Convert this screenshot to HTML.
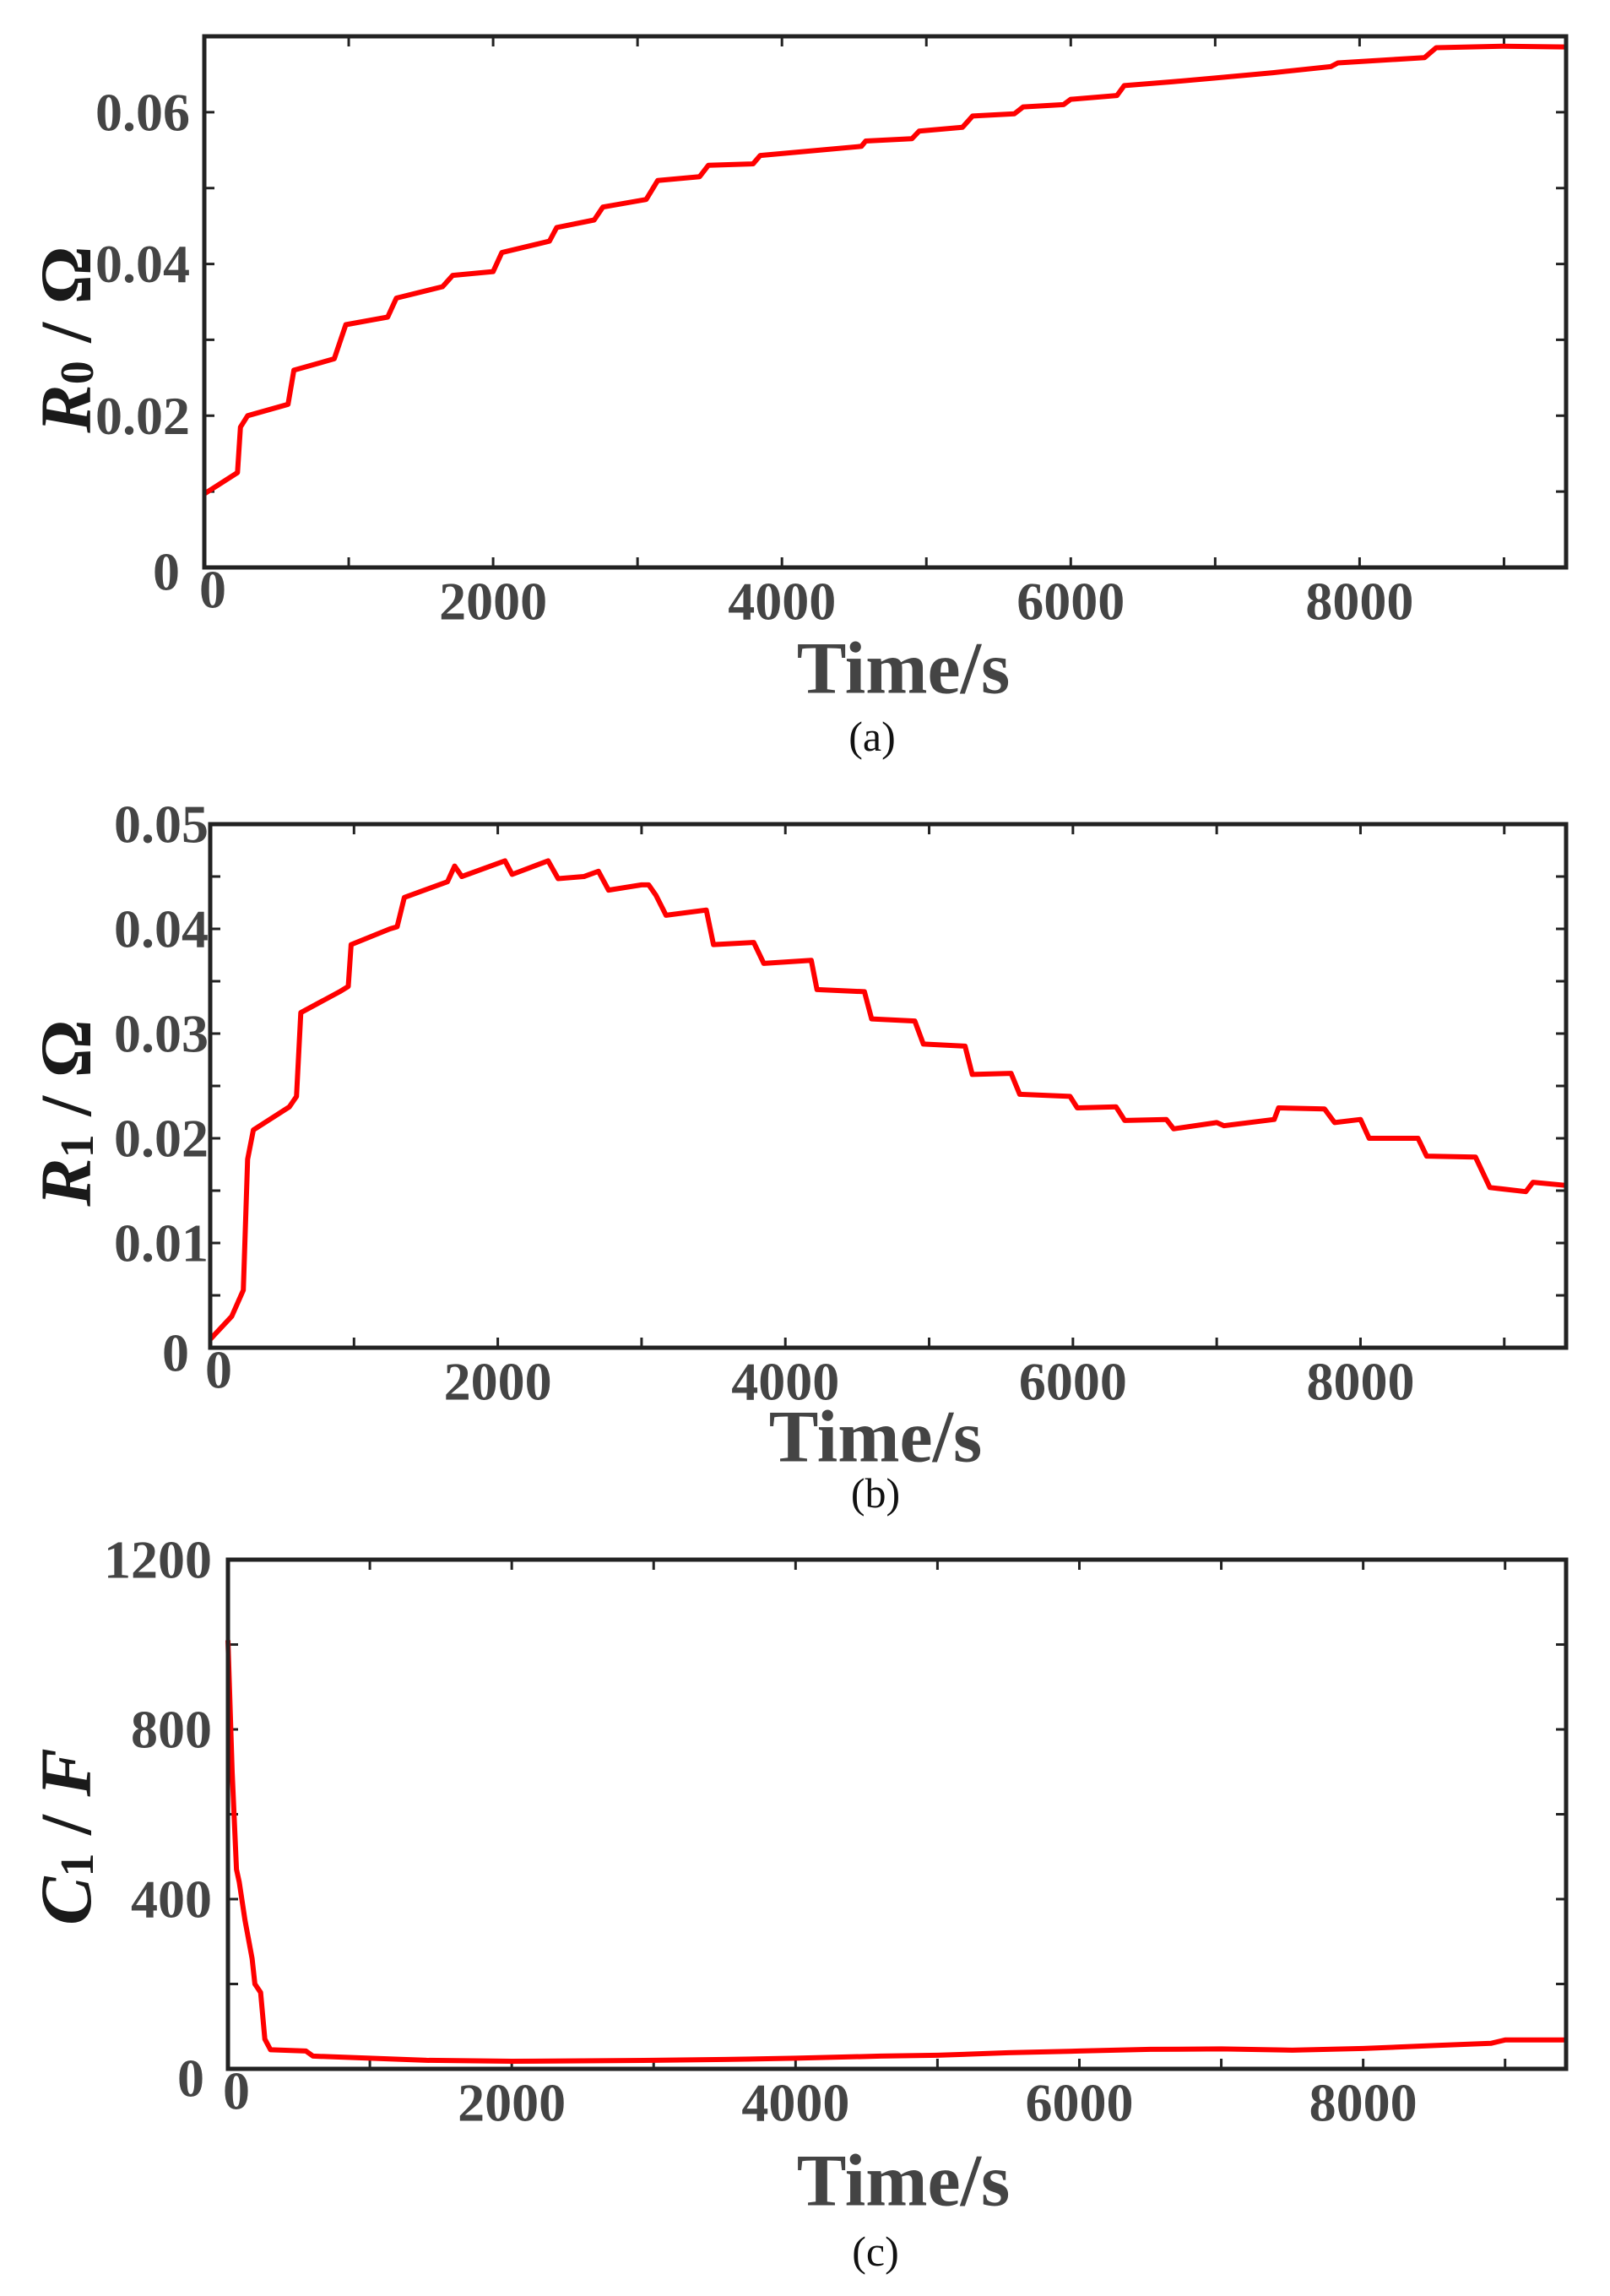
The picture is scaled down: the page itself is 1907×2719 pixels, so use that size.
<!DOCTYPE html>
<html><head><meta charset="utf-8"><style>
html,body{margin:0;padding:0;background:#fff;}
svg{display:block;}
text{font-family:"Liberation Serif",serif;}
</style></head><body>
<svg id="fig" width="1907" height="2719" viewBox="0 0 1907 2719" xmlns="http://www.w3.org/2000/svg"></svg>
<script>
// Panel (a) R0 data
const tA = [0,230,250,300,580,620,900,980,1270,1330,1650,1720,2000,2060,2390,2440,2700,2760,3060,3140,3430,3490,3800,3850,4550,4580,4900,4950,5250,5320,5610,5670,5950,6000,6320,6370,6700,7000,7400,7800,7850,8450,8530,9000,9430];
const vA = [0.0097,0.0125,0.0185,0.0200,0.0215,0.0260,0.0275,0.0320,0.0330,0.0355,0.0370,0.0385,0.0390,0.0415,0.0430,0.0448,0.0458,0.0475,0.0485,0.0510,0.0515,0.0530,0.0532,0.0543,0.0555,0.0562,0.0565,0.0575,0.0580,0.0595,0.0598,0.0607,0.0610,0.0617,0.0622,0.0635,0.0640,0.0645,0.0652,0.0660,0.0665,0.0672,0.0685,0.0687,0.0686];
// Panel (b) R1 data
const tB = [0,150,230,260,300,550,600,630,900,960,980,1250,1300,1350,1650,1700,1750,2050,2100,2350,2420,2600,2700,2770,3000,3050,3100,3170,3450,3500,3780,3850,4180,4220,4550,4600,4900,4960,5250,5300,5570,5630,5980,6030,6300,6360,6650,6700,7000,7050,7400,7430,7750,7820,8000,8060,8400,8460,8800,8900,9150,9200,9430];
const vB = [0.0008,0.0030,0.0055,0.0180,0.0208,0.0230,0.0240,0.0320,0.0340,0.0345,0.0385,0.0400,0.0402,0.0430,0.0445,0.0460,0.0450,0.0465,0.0452,0.0465,0.0448,0.0450,0.0455,0.0437,0.0442,0.0442,0.0432,0.0413,0.0418,0.0385,0.0387,0.0367,0.0370,0.0342,0.0340,0.0314,0.0312,0.0290,0.0288,0.0261,0.0262,0.0242,0.0240,0.0229,0.0230,0.0217,0.0218,0.0209,0.0215,0.0212,0.0218,0.0229,0.0228,0.0215,0.0218,0.0200,0.0200,0.0183,0.0182,0.0153,0.0149,0.0158,0.0155];
// Panel (c) C1 data
const tC = [0,30,60,80,120,170,190,230,260,300,550,600,1000,1400,2000,2500,3000,3500,4000,4600,5000,5500,6000,6500,7000,7500,8000,8500,8900,9000,9430];
const vC = [1010,700,470,440,350,260,200,180,70,45,42,30,25,20,18,19,20,22,25,30,32,38,42,46,47,44,48,55,60,68,68];
const xTicks = [0,2000,4000,6000,8000];
const yTicksA = [0,0.02,0.04,0.06];
const yTickLabelsA = ["0","0.02","0.04","0.06"];
const yTicksB = [0,0.01,0.02,0.03,0.04,0.05];
const yTickLabelsB = ["0","0.01","0.02","0.03","0.04","0.05"];
const yTicksC = [0,400,800,1200];
const yTickLabelsC = ["0","400","800","1200"];

const NS="http://www.w3.org/2000/svg";
const svg=document.getElementById('fig');
function mk(tag,attrs,parent){const e=document.createElementNS(NS,tag);for(const k in attrs)e.setAttribute(k,attrs[k]);(parent||svg).appendChild(e);return e;}

function panel(o){
  const g=mk('g',{});
  
  
  const X=t=>o.L+(t-0)/(o.xmax)*(o.R-o.L);
  const Y=v=>o.B-(v-o.ymin)/(o.ymax-o.ymin)*(o.B-o.T);
  // minor ticks
  for(let t=1000;t<o.xmax;t+=1000){
    const x=X(t);
    const tk=mk('path',{d:`M${x} ${o.B}V${o.B-12}M${x} ${o.T}V${o.T+12}`,stroke:'#222','stroke-width':3},g);
    
    
  }
  for(let v=o.ymin+o.ystep;v<o.ymax-1e-9;v+=o.ystep){
    const y=Y(v);
    const tk=mk('path',{d:`M${o.L} ${y}H${o.L+12}M${o.R} ${y}H${o.R-12}`,stroke:'#222','stroke-width':3},g);
    
    
  }
  // line
  let d='';
  o.t.forEach((t,i)=>{d+=(i?'L':'M')+X(t).toFixed(1)+' '+Y(o.v[i]).toFixed(1);});
  const ln=mk('path',{d:d,fill:'none',stroke:'#ff0000','stroke-width':6,'stroke-linejoin':'round'},g);
  
  
  // frame
  const fr=mk('rect',{x:o.L,y:o.T,width:o.R-o.L,height:o.B-o.T,fill:'none',stroke:'#222','stroke-width':5},g);
  
  
  // x labels
  xTicks.forEach(t=>{
    const tx=mk('text',{x:t===0?X(t)+10:X(t),y:t===0?o.B+26:o.B+40,'font-size':64,'font-weight':'bold',fill:'#444','text-anchor':'middle','dominant-baseline':'central'},g);
    tx.textContent=String(t);
    
    
  });
  o.yt.forEach((v,i)=>{
    const isZero=v===0;
    const tx=mk('text',{x:isZero?o.zx:o.L-o.yoff,y:isZero?o.zy:Y(v),'font-size':64,'font-weight':'bold',fill:'#444','text-anchor':isZero?'middle':'end','dominant-baseline':'central'},g);
    tx.textContent=o.ytl[i];
    
    
  });
  const xt=mk('text',{x:o.xtx,y:o.xty,'font-size':88,'font-weight':'bold',fill:'#444','text-anchor':'middle','dominant-baseline':'central'},g);
  xt.textContent='Time/s';
  
  
  const yt=mk('text',{x:0,y:0,'font-size':86,'font-weight':'bold',fill:'#1a1a1a','text-anchor':'middle','dominant-baseline':'central',transform:`translate(78 ${o.ytc}) rotate(-90)`},g);
  yt.innerHTML=o.ytitle;
  
  
  const cp=mk('text',{x:o.cx,y:o.cy,'font-size':50,fill:'#111','text-anchor':'middle','dominant-baseline':'central'},g);
  cp.textContent=o.cap;
  
  
}

panel({name:'panel-a-r0',series:'r0-line',L:242,R:1855,T:43,B:672,xmax:9430,ymin:0,ymax:0.07,ystep:0.01,t:tA,v:vA,yt:yTicksA,ytl:yTickLabelsA,yoff:17,zx:197,zy:677,xtx:1070,xty:792,ytc:402,cx:1033,cy:872,cap:'(a)',
  ytitle:'<tspan font-style="italic">R</tspan><tspan font-size="56" dy="14">0</tspan><tspan dy="-14"> / Ω</tspan>'});
panel({name:'panel-b-r1',series:'r1-line',L:249,R:1855,T:976,B:1596,xmax:9430,ymin:0,ymax:0.05,ystep:0.005,t:tB,v:vB,yt:yTicksB,ytl:yTickLabelsB,yoff:2,zx:208,zy:1602,xtx:1037,xty:1702,ytc:1318,cx:1037,cy:1768,cap:'(b)',
  ytitle:'<tspan font-style="italic">R</tspan><tspan font-size="56" dy="14">1</tspan><tspan dy="-14"> / Ω</tspan>'});
panel({name:'panel-c-c1',series:'c1-line',L:270,R:1855,T:1847,B:2450,xmax:9430,ymin:0,ymax:1200,ystep:200,t:tC,v:vC,yt:yTicksC,ytl:yTickLabelsC,yoff:19,zx:226,zy:2461,xtx:1070,xty:2583,ytc:2175,cx:1037,cy:2666,cap:'(c)',
  ytitle:'<tspan font-style="italic">C</tspan><tspan font-size="56" dy="14">1</tspan><tspan dy="-14"> / </tspan><tspan font-style="italic">F</tspan>'});
</script>
</body></html>
